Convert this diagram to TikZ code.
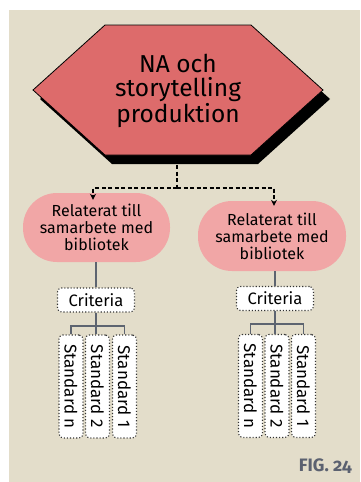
\documentclass[tikz,border=0pt]{standalone}
\usepackage{fontspec}
\usepackage{graphicx}
\setmainfont{Fira Sans}
\newfontfamily\figfont[Numbers=OldStyle]{Fira Sans}
\usetikzlibrary{arrows.meta}
\definecolor{bgc}{HTML}{E3DDCA}
\definecolor{hexc}{HTML}{DD6B6B}
\definecolor{pillc}{HTML}{F1A6A6}
\definecolor{linec}{HTML}{5D6470}
\definecolor{figc}{HTML}{5B6170}
\tikzset{
  pill/.style={fill=pillc, rounded corners=34pt, minimum width=147pt, minimum height=69pt,
    align=center, font=\fontsize{16}{17}\selectfont, inner sep=0pt},
  critbox/.style={fill=white, draw=black!80, line width=1.1pt, dotted, rounded corners=4pt,
    minimum width=77pt, minimum height=24pt, inner sep=0pt, font=\fontsize{16.5}{18}\selectfont},
  stdbox/.style={fill=white, draw=black!80, line width=1.1pt, dotted, rounded corners=4pt,
    minimum width=24pt, minimum height=103pt, inner sep=0pt, font=\fontsize{17}{18}\selectfont},
  dashconn/.style={draw=black, line width=1.2pt, dash pattern=on 4pt off 2.5pt},
  grayconn/.style={draw=linec, line width=1.6pt},
}
\begin{document}
\begin{tikzpicture}[x=1pt,y=-1pt]
\useasboundingbox (0,0) rectangle (360,482);
\fill[bgc] (9,10) rectangle (360,482);
% hexagon shadow and body
\fill[black] (112,34) -- (258,34) -- (330,99) -- (258,164) -- (112,164) -- (40,99) -- cycle;
\filldraw[fill=hexc, draw=black, line width=0.8pt] (105,25) -- (251,25) -- (323,90) -- (251,155) -- (105,155) -- (33,90) -- cycle;
\node[align=center, font=\fontsize{24.5}{23.8}\selectfont] (hex) at (178,91) {NA och\\storytelling\\produktion};
\coordinate (hexb) at (177,165);
\coordinate (split) at (177,188);
% pills
\node[pill] (pillL) at (96.5,227.5) {Relaterat till\\samarbete med\\bibliotek};
\node[pill, minimum width=148pt, minimum height=70pt] (pillR) at (272,236) {Relaterat till\\samarbete med\\bibliotek};
% dashed connectors
\draw[dashconn] (hexb) -- (split);
\draw[dashconn, -{Stealth[length=6pt,width=6pt]}] (split) -| ([yshift=-7pt]pillL.north -| 93,0);
\draw[dashconn, -{Stealth[length=6pt,width=6pt]}] (split) -| ([yshift=-5pt]pillR.north -| 274,0);
% criteria
\node[critbox] (critL) at (96,300) {Criteria};
\node[critbox] (critR) at (275,298.5) {Criteria};
\draw[grayconn] (pillL.south -| critL) -- (critL.north);
\draw[grayconn] (pillR.south -| critR) -- (critR.north);
% standards left
\node[stdbox] (snL) at (71,386.5) {\rotatebox{-90}{Standard n}};
\node[stdbox] (s2L) at (97.5,386.5) {\rotatebox{-90}{Standard 2}};
\node[stdbox] (s1L) at (124.5,386.5) {\rotatebox{-90}{Standard 1}};
\coordinate (busL) at (96,326);
\draw[grayconn] (critL.south) -- (busL);
\draw[grayconn] (snL.north) |- (busL) -| (s1L.north);
\draw[grayconn] (busL) -- (s2L.north -| busL);
% standards right
\node[stdbox] (snR) at (250.5,386) {\rotatebox{-90}{Standard n}};
\node[stdbox] (s2R) at (277,386) {\rotatebox{-90}{Standard 2}};
\node[stdbox] (s1R) at (303.5,386) {\rotatebox{-90}{Standard 1}};
\coordinate (busR) at (275,324);
\draw[grayconn] (critR.south) -- (busR);
\draw[grayconn] (snR.north) |- (busR) -| (s1R.north);
\draw[grayconn] (busR) -- (s2R.north -| busR);
% figure label
\node[anchor=base east, text=figc, font=\figfont\bfseries\fontsize{18}{20}\selectfont, inner sep=0pt] (fig) at (352,471) {FIG. 24};
\end{tikzpicture}
\end{document}
